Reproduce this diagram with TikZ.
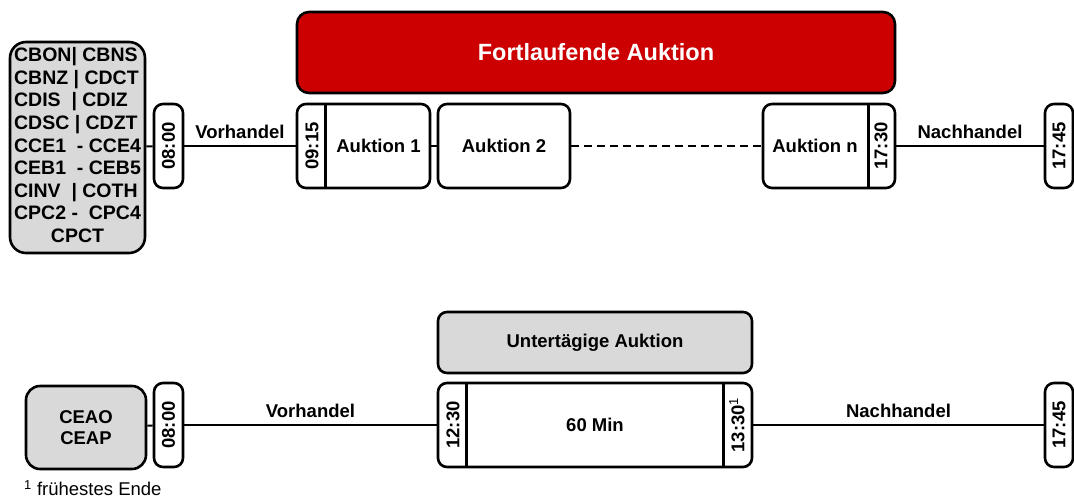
\documentclass[tikz,border=0pt]{standalone}
\usepackage{fontspec}
\usepackage{graphicx}
\setmainfont{Liberation Sans}
\definecolor{boxgray}{HTML}{D9D9D9}
\definecolor{auctionred}{HTML}{CC0000}
\begin{document}
\begin{tikzpicture}[x=1pt,y=-1pt,
  box/.style={draw=black, line width=2.6pt, rounded corners=9pt, inner sep=0pt},
  lbl/.style={font=\bfseries\fontsize{18.5}{22}\selectfont, inner sep=0pt},
  timebox/.style={box, lbl, fill=white, minimum width=29pt, minimum height=84pt},
  slot/.style={box, fill=white, minimum height=84pt},
  conn/.style={line width=2pt},
  divider/.style={line width=2.6pt},
  phase/.style={lbl, above=6pt, midway},
]
\useasboundingbox (0,0) rectangle (1074,499);

% ---------- Upper timeline: continuous trading ----------
\node[box, fill=boxgray, rounded corners=16pt, minimum width=135pt,
      minimum height=211pt, font=\bfseries\fontsize{19.5}{22.6}\selectfont]
  (codes) at (77.5,147.5) {%
  \begin{tabular}{@{}l@{}}
  CBON| CBNS\\
  CBNZ | CDCT\\
  CDIS \ | CDIZ\\
  CDSC | CDZT\\
  CCE1 \ - CCE4\\
  CEB1 \ - CEB5\\
  CINV \ | COTH\\
  CPC2 - \ CPC4\\
  \multicolumn{1}{@{}c@{}}{CPCT}
  \end{tabular}};

\node[timebox] (open1) at (168.5,146) {\rotatebox{90}{08:00}};

\node[box, fill=auctionred, rounded corners=12pt, minimum width=598pt,
      minimum height=81pt, text=white,
      font=\bfseries\fontsize{23.5}{28}\selectfont]
  (cont) at (596,52.5) {Fortlaufende Auktion};

\node[slot, minimum width=133pt] (auk1) at (363.5,146) {};
\draw[divider] ([xshift=30pt]auk1.north west) -- ([xshift=30pt]auk1.south west);
\node[lbl] (t0915) at (312,146) {\rotatebox{90}{09:15}};
\node[lbl] (auk1t) at (378.5,146) {Auktion 1};

\node[slot, lbl, minimum width=132pt] (auk2) at (504,146) {Auktion 2};

\node[slot, minimum width=132pt] (aukn) at (829,146) {};
\draw[divider] ([xshift=-28pt]aukn.north east) -- ([xshift=-28pt]aukn.south east);
\node[lbl] (auknt) at (815,146) {Auktion n};
\node[lbl] (t1730) at (881,146) {\rotatebox{90}{17:30}};

\node[timebox, minimum width=28pt] (close1) at (1059,146) {\rotatebox{90}{17:45}};

\draw[conn] (codes) -- (open1);
\draw[conn] (open1) -- node[phase] {Vorhandel} (auk1);
\draw[conn] (auk1) -- (auk2);
\draw[conn, dash pattern=on 8pt off 5pt] (auk2) -- (aukn);
\draw[conn] (aukn) -- node[phase] {Nachhandel} (close1);

% ---------- Lower timeline: intraday auction ----------
\node[box, lbl, fill=boxgray, rounded corners=14pt, minimum width=120pt,
      minimum height=83pt, align=center,
      font=\bfseries\fontsize{18.5}{20.5}\selectfont]
  (ceao) at (86,427.5) {CEAO\\CEAP};

\node[timebox] (open2) at (168.5,425) {\rotatebox{90}{08:00}};

\node[box, lbl, fill=boxgray, minimum width=314pt, minimum height=61pt]
  (intra) at (595,342.5) {Untertägige Auktion};

\node[slot, minimum width=314pt] (auction) at (595,425) {};
\draw[divider] ([xshift=30pt]auction.north west) -- ([xshift=30pt]auction.south west);
\draw[divider] ([xshift=-30pt]auction.north east) -- ([xshift=-30pt]auction.south east);
\node[lbl] (t1230) at (453,425) {\rotatebox{90}{12:30}};
\node[lbl] (dur) at (595,425) {60 Min};
\node[lbl] (t1330) at (737,425) {\rotatebox{90}{13:30\textsuperscript{\mdseries 1}}};

\node[timebox, minimum width=28pt] (close2) at (1059,425) {\rotatebox{90}{17:45}};

\draw[conn] (ceao) -- (open2);
\draw[conn] (open2) -- node[phase] {Vorhandel} (auction);
\draw[conn] (auction) -- node[phase] {Nachhandel} (close2);

% ---------- Footnote ----------
\node[anchor=west, inner sep=0pt, font=\fontsize{18.5}{22}\selectfont]
  (note) at (24,488) {\textsuperscript{1} frühestes Ende};
\end{tikzpicture}
\end{document}
